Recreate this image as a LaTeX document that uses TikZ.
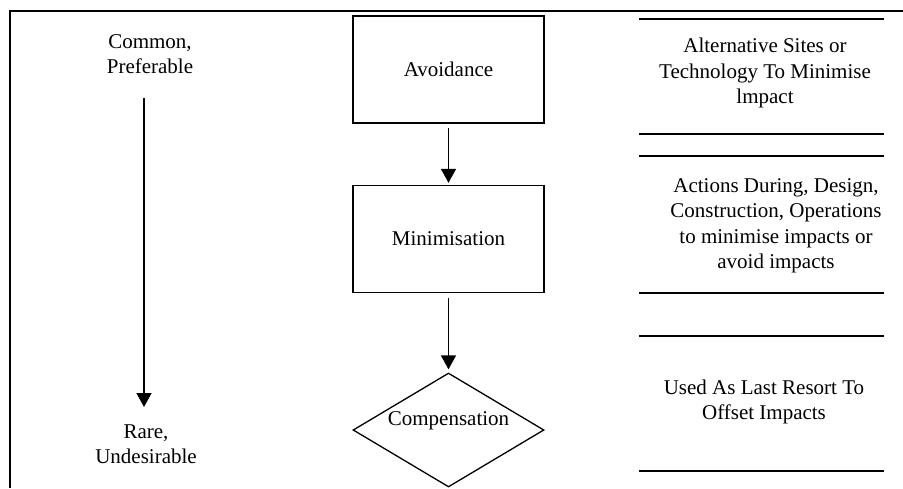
\documentclass[tikz,border=0pt]{standalone}
\usepackage{fontspec}
\setmainfont{Liberation Serif}
\usetikzlibrary{arrows.meta,shapes.geometric}
\begin{document}
\begin{tikzpicture}[x=1pt,y=-1pt,line width=1.3pt,
  txt/.style={font=\fontsize{21}{25.5}\selectfont,align=center,inner sep=0pt},
  stepbox/.style={draw,minimum width=191pt,minimum height=107pt,inner sep=0pt,font=\fontsize{21}{25.5}\selectfont},
  decide/.style={draw,diamond,aspect=1.65,minimum width=191pt,minimum height=114pt,inner sep=0pt},
  flow/.style={-{Triangle[width=15pt,length=14pt]},line width=1.5pt},
  rule/.style={line width=1.5pt}]
\useasboundingbox (0,0) rectangle (903,488);
% frame
\draw[line width=1.5pt] (903,11) -- (10,11) -- (10,488);
% left scale
\node[txt] (common) at (150,54) {Common,\\Preferable};
\node[txt] (rare) at (146,444) {Rare,\\Undesirable};
\coordinate (ltop) at (144,98);
\coordinate (lbot) at (144,407);
\draw[flow] (ltop) -- (lbot);
% centre flow
\node[stepbox] (avoid) at (448.5,69.5) {Avoidance};
\node[stepbox] (mini) at (448.5,239) {Minimisation};
\node[decide] (comp) at (448.5,430) {};
\node[txt] (comptxt) at (448.5,421) {Compensation};
\draw[flow,shorten <=4pt,shorten >=2pt] (avoid.south) -- (mini.north);
\draw[flow,shorten <=5pt,shorten >=3pt] (mini.south) -- (comp.north);
% right descriptions
\draw[rule] (639,19) -- (884,19);
\draw[rule] (639,134) -- (884,134);
\draw[rule] (639,156) -- (884,156);
\draw[rule] (639,293) -- (884,293);
\draw[rule] (639,336) -- (884,336);
\draw[rule] (639,471) -- (884,471);
\node[txt] (d1) at (765,73) {Alternative Sites or\\Technology To Minimise\\lmpact};
\node[txt] (d2) at (776,226) {Actions During, Design,\\Construction, Operations\\to minimise impacts or\\avoid impacts};
\node[txt] (d3) at (764,402) {Used As Last Resort To\\Offset Impacts};
\end{tikzpicture}
\end{document}
